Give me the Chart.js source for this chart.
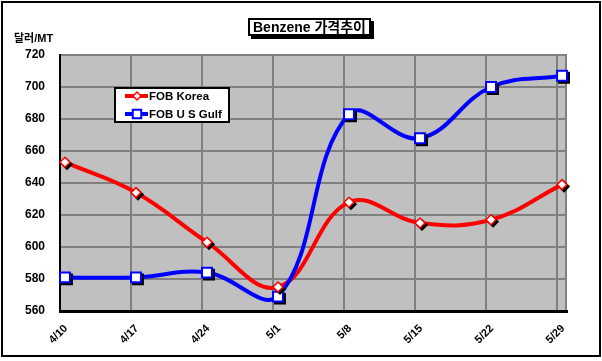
<!DOCTYPE html>
<html>
<head>
<meta charset="utf-8">
<script src="https://cdn.jsdelivr.net/npm/chart.js@4/dist/chart.umd.min.js"></script>
<style>
    html, body { margin: 0; padding: 0; background: #fff; }
    #wrap { position: relative; width: 602px; height: 361px; overflow: hidden; }
    #chart { position: absolute; left: 0; top: 0; }
    #frame {
        position: absolute; left: 1px; top: 1px; width: 596px; height: 352px;
        border: 2px solid #000; pointer-events: none;
    }
    #title {
        position: absolute; left: 248px; top: 18px; padding: 0 3px;
        border: 2px solid #000; background: #fff; box-shadow: 3px 3px 0 #000;
        font: bold 14px "Liberation Sans", "Noto Sans CJK KR", sans-serif;
        line-height: 14px; white-space: nowrap;
    }
    #unit {
        position: absolute; left: 14px; top: 29px;
        font: bold 11px "Liberation Sans", "Noto Sans CJK KR", sans-serif;
        white-space: nowrap;
    }
</style>
</head>
<body>
<div id="wrap">
    <canvas id="chart" width="602" height="361"></canvas>
    <div id="frame"></div>
    <div id="title">Benzene 가격추이</div>
    <div id="unit">달러/MT</div>
</div>
<script>
// Chart data
const xLabels = ['4/10', '4/17', '4/24', '5/1', '5/8', '5/15', '5/22', '5/29'];
const fobKorea = [653, 634, 603, 575, 628, 615, 617, 639];
const fobUsGulf = [581, 581, 584, 569, 683, 668, 700, 707];
const seriesNames = ['FOB Korea', 'FOB U S Gulf'];
const yMin = 560;
const yMax = 720;
const yStep = 20;

// gridlines sit a little left of the points, like in the original
const GRID_SHIFT = 0.07;

const RED = '#ff0000';
const BLUE = '#0000ff';

Chart.defaults.font.family = '"Liberation Sans", Arial, sans-serif';
Chart.defaults.font.weight = 'bold';
Chart.defaults.color = '#000';

const toPoints = values => values.map((v, i) => ({ x: i, y: v }));

// Grey plot area with a darker right edge
const plotBackground = {
    id: 'plotBackground',
    beforeDraw(chart) {
        const { ctx, chartArea: a } = chart;
        ctx.save();
        ctx.fillStyle = '#c0c0c0';
        ctx.fillRect(a.left, a.top, a.width, a.height);
        ctx.strokeStyle = '#808080';
        ctx.lineWidth = 2;
        ctx.beginPath();
        ctx.moveTo(a.right - 1, a.top);
        ctx.lineTo(a.right - 1, a.bottom);
        ctx.stroke();
        ctx.restore();
    }
};

// Black drop shadow under the markers only (drawn behind each marker)
const markerShadow = {
    id: 'markerShadow',
    beforeDatasetDraw(chart, args) {
        const ds = chart.data.datasets[args.index];
        if (!ds.shadow) return;
        const ctx = chart.ctx;
        ctx.save();
        ctx.fillStyle = '#000';
        ctx.strokeStyle = '#000';
        ctx.lineWidth = ds.pointBorderWidth;
        args.meta.data.forEach(pt => {
            Chart.helpers.drawPoint(ctx, {
                pointStyle: ds.pointStyle,
                rotation: 0,
                radius: ds.pointRadius,
                borderWidth: ds.pointBorderWidth
            }, pt.x + 2, pt.y + 2);
        });
        ctx.restore();
    }
};

// Boxed legend inside the plot, line + marker samples
const boxLegend = {
    id: 'boxLegend',
    afterDraw(chart) {
        const { ctx, chartArea: a } = chart;
        const x = a.left + 55;
        const y = a.top + 33;
        const w = 114;
        const h = 34;
        ctx.save();
        ctx.fillStyle = '#fff';
        ctx.fillRect(x, y, w, h);
        ctx.strokeStyle = '#000';
        ctx.lineWidth = 2;
        ctx.strokeRect(x, y, w, h);

        const entries = [
            { ds: chart.data.datasets[2], marker: chart.data.datasets[0], radius: 4 },
            { ds: chart.data.datasets[3], marker: chart.data.datasets[1], radius: 6 }
        ];
        entries.forEach((e, i) => {
            const cy = y + 8 + i * 18;
            ctx.strokeStyle = e.ds.borderColor;
            ctx.lineWidth = 4;
            ctx.beginPath();
            ctx.moveTo(x + 10, cy);
            ctx.lineTo(x + 33, cy);
            ctx.stroke();

            ctx.fillStyle = '#fff';
            ctx.strokeStyle = e.marker.pointBorderColor;
            ctx.lineWidth = e.marker.pointBorderWidth;
            Chart.helpers.drawPoint(ctx, {
                pointStyle: e.marker.pointStyle,
                rotation: 0,
                radius: e.radius,
                borderWidth: e.marker.pointBorderWidth
            }, x + 22, cy);

            ctx.fillStyle = '#000';
            ctx.font = 'bold 11.5px "Liberation Sans", Arial, sans-serif';
            ctx.textBaseline = 'middle';
            ctx.textAlign = 'left';
            ctx.fillText(e.ds.label, x + 34, cy + 1);
        });
        ctx.restore();
    }
};

new Chart(document.getElementById('chart').getContext('2d'), {
    type: 'line',
    data: {
        datasets: [
            {
                label: seriesNames[0] + ' markers',
                data: toPoints(fobKorea),
                showLine: false,
                pointStyle: 'rectRot',
                pointRadius: 5,
                pointBackgroundColor: '#fff',
                pointBorderColor: RED,
                pointBorderWidth: 1.5,
                clip: false,
                shadow: true,
                order: 0
            },
            {
                label: seriesNames[1] + ' markers',
                data: toPoints(fobUsGulf),
                showLine: false,
                pointStyle: 'rect',
                pointRadius: 7,
                pointBackgroundColor: '#fff',
                pointBorderColor: BLUE,
                pointBorderWidth: 2,
                clip: false,
                shadow: true,
                order: 0
            },
            {
                label: seriesNames[0],
                data: toPoints(fobKorea),
                borderColor: RED,
                borderWidth: 4,
                pointRadius: 0,
                tension: 0.4,
                order: 2
            },
            {
                label: seriesNames[1],
                data: toPoints(fobUsGulf),
                borderColor: BLUE,
                borderWidth: 4,
                pointRadius: 0,
                tension: 0.4,
                order: 1
            }
        ]
    },
    options: {
        responsive: false,
        animation: false,
        layout: {
            padding: { left: 25, top: 55, right: 35, bottom: 0 }
        },
        plugins: {
            legend: { display: false },
            title: { display: false },
            tooltip: { enabled: false }
        },
        scales: {
            x: {
                type: 'linear',
                min: -GRID_SHIFT,
                max: xLabels.length - 1 + GRID_SHIFT,
                afterBuildTicks: scale => {
                    scale.ticks = xLabels.map((l, i) => ({ value: i - GRID_SHIFT }));
                },
                afterFit: scale => { scale.height = 50; },
                grid: { color: '#808080', lineWidth: 2, drawTicks: false },
                border: { color: '#000', width: 3 },
                ticks: {
                    autoSkip: false,
                    maxRotation: 45,
                    minRotation: 45,
                    padding: 11,
                    labelOffset: 6,
                    font: { size: 11, weight: 'bold' },
                    callback: value => xLabels[Math.round(value + GRID_SHIFT)]
                }
            },
            y: {
                min: yMin,
                max: yMax,
                afterFit: scale => { scale.width = 35; },
                grid: { color: '#808080', lineWidth: 2, drawTicks: false },
                border: { color: '#000', width: 2 },
                ticks: {
                    stepSize: yStep,
                    padding: 15,
                    font: { size: 12, weight: 'bold' }
                }
            }
        }
    },
    plugins: [plotBackground, markerShadow, boxLegend]
});
</script>
</body>
</html>
